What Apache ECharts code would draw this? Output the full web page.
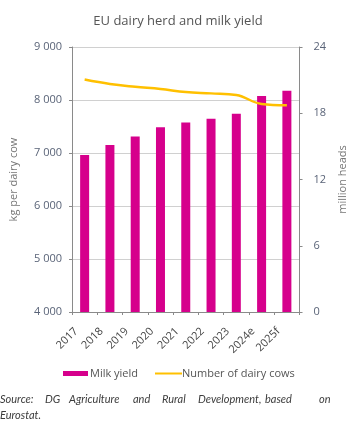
<!DOCTYPE html>
<html><head><meta charset="utf-8">
<script src="https://cdn.jsdelivr.net/npm/echarts@6/dist/echarts.min.js"></script>
<style>html,body{margin:0;padding:0;background:#fff}#c{width:356px;height:426px}</style>
</head><body><div id="c"></div>
<script>
const categories = ['2017','2018','2019','2020','2021','2022','2023','2024e','2025f'];
const milkYield = [6960, 7150, 7310, 7485, 7575, 7645, 7740, 8075, 8175];
const dairyCows = [21.05, 20.65, 20.4, 20.2, 19.92, 19.8, 19.65, 18.84, 18.72];
const leftTicks = {min: 4000, max: 9000, interval: 1000};
const rightTicks = {min: 0, max: 24, interval: 6};

const FONT = 'Open Sans';
const chart = echarts.init(document.getElementById('c'), null, {renderer: 'canvas'});
const fmt = v => String(v).replace(/\B(?=(\d{3})+(?!\d))/g, ' ');
const srcWords = [['Source:',0],['DG',45],['Agriculture',69],['and',133],['Rural',162],['Development,',198],['based',265],['on',319]];
const SRC_FONT = 'italic 11px Lato';
const graphics = srcWords.map(w => ({type:'text', left:w[1], top:394, style:{text:w[0], font:SRC_FONT, fill:'#3c3c3c'}}));
graphics.push({type:'text', left:0, top:410, style:{text:'Eurostat.', font:SRC_FONT, fill:'#3c3c3c'}});

chart.setOption({
  animation: false,
  textStyle: {fontFamily: FONT},
  title: {text: 'EU dairy herd and milk yield', left: 'center', top: 10,
    textStyle: {fontSize: 13, fontWeight: 'normal', color: '#555', fontFamily: FONT}},
  grid: {left: 63, right: 47, top: 47, bottom: 114, containLabel: false},
  legend: [
    {data: [{name: 'Milk yield', icon: 'rect'}], left: 58, top: 363, itemWidth: 25, itemHeight: 5, itemGap: 3,
     textStyle: {fontSize: 11, color: '#555', fontFamily: FONT, padding: [0,0,0,-3]}},
    {data: [{name: 'Number of dairy cows', icon: 'rect'}], left: 150, top: 363, itemWidth: 27, itemHeight: 2,
     textStyle: {fontSize: 11, color: '#555', fontFamily: FONT, padding: [0,0,0,-5]}}
  ],
  xAxis: {type: 'category', data: categories,
    axisLine: {lineStyle: {color: '#8a8a8a'}},
    axisTick: {show: true, length: 3, lineStyle: {color: '#8a8a8a'}},
    axisLabel: {rotate: 45, fontSize: 11, color: '#444', margin: 9, padding: [0, 12, 6, 0], fontFamily: FONT}},
  yAxis: [
    {type: 'value', min: leftTicks.min, max: leftTicks.max, interval: leftTicks.interval,
     name: 'kg per dairy cow', nameLocation: 'middle', nameGap: 53, nameRotate: 90,
     nameTextStyle: {fontSize: 11, color: '#777', fontFamily: FONT},
     axisLine: {show: true, lineStyle: {color: '#8a8a8a'}},
     axisTick: {show: true, length: 3, lineStyle: {color: '#8a8a8a'}},
     axisLabel: {fontSize: 11, color: '#5a6478', margin: 10, formatter: fmt, fontFamily: FONT},
     splitLine: {lineStyle: {color: '#d0d0d0'}}},
    {type: 'value', min: rightTicks.min, max: rightTicks.max, interval: rightTicks.interval,
     name: 'million heads', nameLocation: 'middle', nameGap: 28, nameRotate: 90,
     nameTextStyle: {fontSize: 11, color: '#777', fontFamily: FONT},
     axisLine: {show: true, lineStyle: {color: '#8a8a8a'}},
     axisTick: {show: true, length: 3, lineStyle: {color: '#8a8a8a'}},
     axisLabel: {fontSize: 11, color: '#5a6478', margin: 14, fontFamily: FONT},
     splitLine: {show: false}}
  ],
  series: [
    {name: 'Milk yield', type: 'bar', data: milkYield, yAxisIndex: 0, barWidth: 9,
     itemStyle: {color: '#D6008C'}},
    {name: 'Number of dairy cows', type: 'line', data: dairyCows, yAxisIndex: 1, smooth: 0.4,
     symbol: 'none', lineStyle: {color: '#FFC000', width: 2.5}, itemStyle: {color: '#FFC000'}}
  ],
  graphic: graphics
});
</script></body></html>
